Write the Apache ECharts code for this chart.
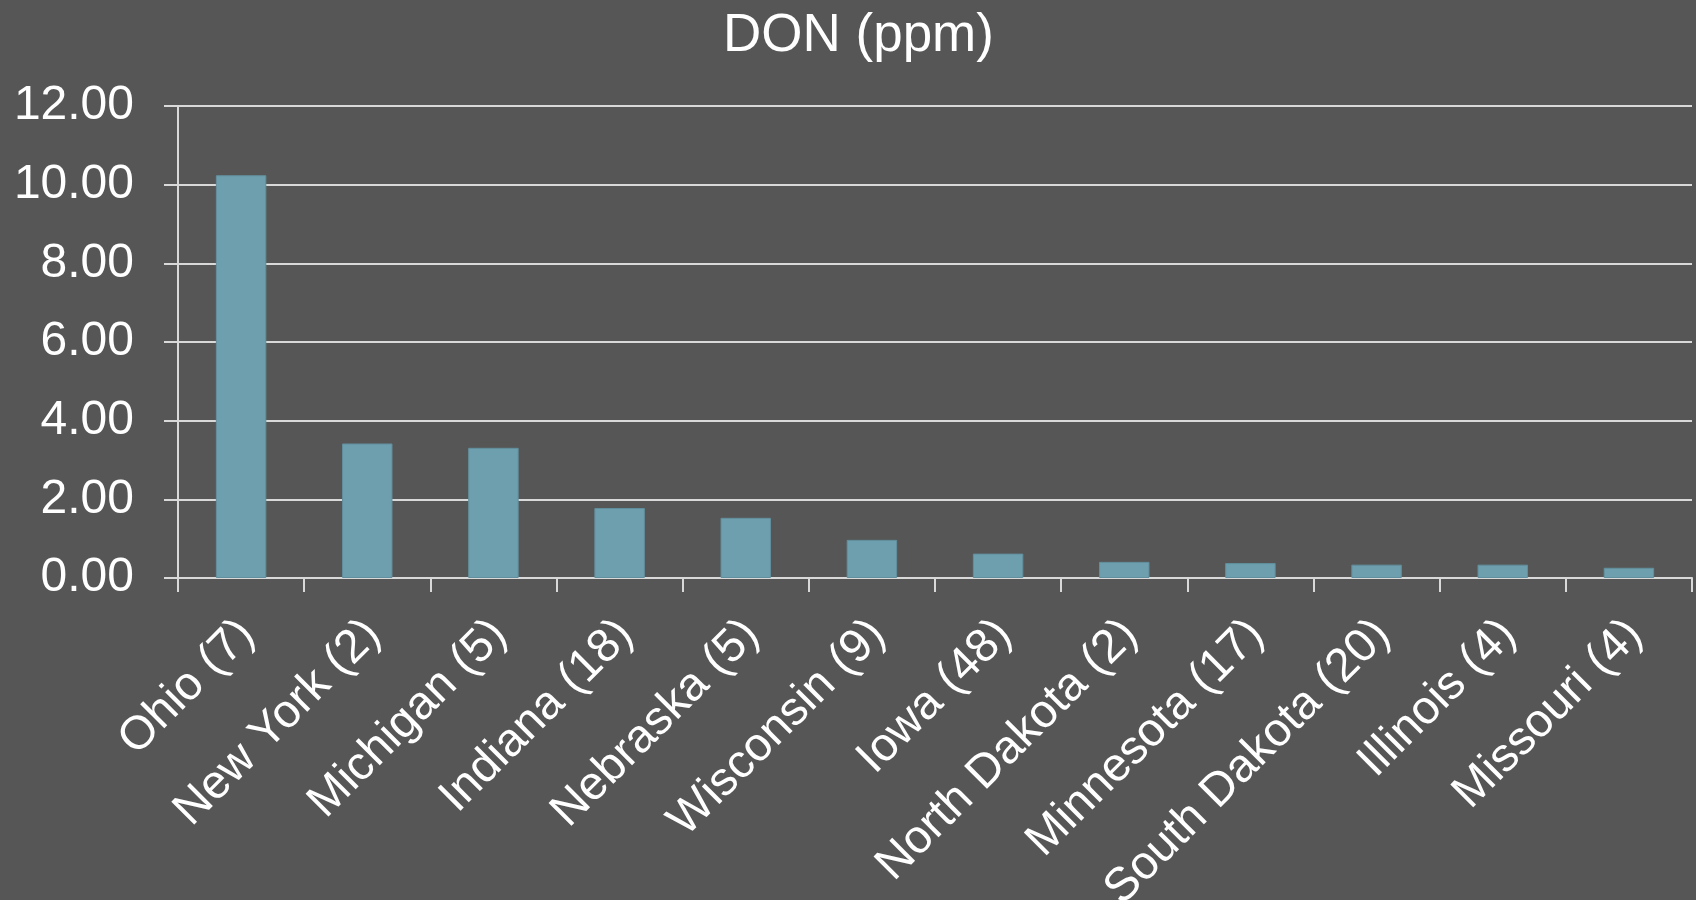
<!DOCTYPE html>
<html>
<head>
<meta charset="utf-8">
<title>DON (ppm)</title>
<script src="https://cdn.jsdelivr.net/npm/echarts@6/dist/echarts.min.js"></script>
<style>
  html, body { margin: 0; padding: 0; background: #565656; }
  #chart { width: 1696px; height: 900px; }
</style>
</head>
<body>
<div id="chart"></div>
<script>
// States sampled (number of samples in parentheses)
const states = [
  'Ohio (7)', 'New York (2)', 'Michigan (5)', 'Indiana (18)', 'Nebraska (5)',
  'Wisconsin (9)', 'Iowa (48)', 'North Dakota (2)', 'Minnesota (17)',
  'South Dakota (20)', 'Illinois (4)', 'Missouri (4)'
];
// Mean DON level per state, ppm
const donPpm = [10.24, 3.42, 3.31, 1.78, 1.53, 0.97, 0.62, 0.41, 0.38, 0.34, 0.34, 0.26];
// Value axis ticks
const yMin = 0, yMax = 12, yStep = 2;

const lineColor = '#d9d9d9';
const chart = echarts.init(document.getElementById('chart'), null, { renderer: 'canvas' });

chart.setOption({
  backgroundColor: '#565656',
  animation: false,
  title: {
    text: 'DON (ppm)',
    left: 723,
    top: 10,
    padding: 0,
    textStyle: {
      color: '#ffffff',
      fontFamily: 'Liberation Sans',
      fontWeight: 'normal',
      fontSize: 53
    }
  },
  grid: {
    left: 178, right: 4, top: 106, bottom: 322,
    containLabel: false,
    outerBoundsMode: 'none'
  },
  xAxis: {
    type: 'category',
    data: states,
    boundaryGap: true,
    axisLine: { show: true, lineStyle: { color: lineColor, width: 2 } },
    axisTick: { show: true, length: 14, lineStyle: { color: lineColor, width: 2 } },
    axisLabel: {
      interval: 0,
      rotate: 45,
      margin: 22,
      align: 'right',
      verticalAlign: 'top',
      padding: [0, 15, 0, 0],
      color: '#ffffff',
      fontFamily: 'Liberation Sans',
      fontSize: 47
    }
  },
  yAxis: {
    type: 'value',
    min: yMin,
    max: yMax,
    interval: yStep,
    axisLine: { show: true, lineStyle: { color: lineColor, width: 2 } },
    axisTick: { show: true, length: 14, lineStyle: { color: lineColor, width: 2 } },
    splitLine: { show: true, lineStyle: { color: lineColor, width: 2 } },
    axisLabel: {
      margin: 44,
      color: '#ffffff',
      fontFamily: 'Liberation Sans',
      fontSize: 48,
      formatter: v => v.toFixed(2)
    }
  },
  series: [{
    type: 'bar',
    data: donPpm,
    barWidth: '40%',
    itemStyle: { color: '#6d9fae', borderColor: '#628f9d', borderWidth: 1 }
  }]
});
</script>
</body>
</html>
